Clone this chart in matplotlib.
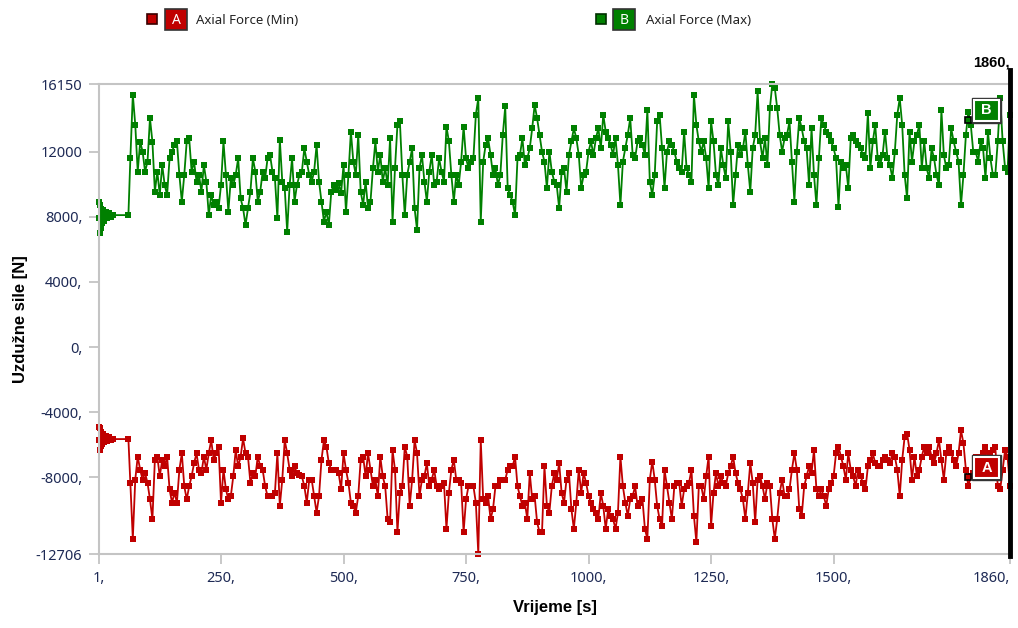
import matplotlib
matplotlib.use("Agg")
import matplotlib.pyplot as plt
from matplotlib.patches import Rectangle

plt.rcParams['font.family'] = ['Noto Sans', 'DejaVu Sans']
BOLD_FONT = ['Liberation Sans', 'DejaVu Sans']

# start-up phase (damped oscillation, then constant until the jump)
T_START = [1, 2, 3, 4, 5, 6, 8, 10, 12, 15, 18, 22, 26, 30, 61]
MAX_START = [7950, 8900, 7000, 8750, 7300, 8500, 7600, 8400, 7750, 8300, 7900, 8200, 7980, 8100, 8100]
MIN_START = [-5700, -4900, -6300, -5000, -6100, -5200, -5950, -5350, -5850, -5450, -5750, -5550, -5700, -5650, -5650]

# main record, every 5 s from 65 s to 1860 s
T_MAIN = list(range(65, 1861, 5))

AXIAL_MAX = [
    11590, 15500, 13640, 10770, 12600, 12000, 10770, 11380, 14050, 12600,
    9540, 10770, 9340, 11180, 9950, 9340, 11590, 12000, 12410, 12620,
    10570, 8930, 10570, 12620, 12820, 10770, 11380, 10160, 10570, 9540,
    11180, 10160, 8100, 9340, 8720, 8930, 8520, 9950, 12620, 10570,
    8310, 10360, 9950, 10570, 11590, 9130, 8520, 7490, 8520, 9540,
    11590, 10770, 8930, 9540, 10770, 10360, 11590, 11800, 10770, 10360,
    7900, 12720, 10160, 9750, 7080, 9950, 11590, 8930, 9950, 10570,
    10770, 12200, 11380, 10570, 10160, 10770, 12410, 10160, 8930, 7700,
    8310, 7490, 9540, 9950, 9640, 10050, 9440, 11180, 8310, 10570,
    13230, 11380, 10570, 13030, 9540, 8720, 10160, 8520, 8930, 10980,
    12620, 10770, 11800, 10160, 10980, 9950, 12820, 7700, 10980, 13640,
    13850, 10570, 8100,
    10570, 11380, 12200, 8520, 7180, 10980, 11800, 10160, 8930, 10770,
    11800, 9950, 10160, 11590, 10770, 10160, 13540, 12620, 10570, 8930,
    10570, 9950, 11380, 13540, 11590, 10980, 11380, 11590, 14260, 15280,
    7700, 11380, 12410, 12820, 11800, 10570, 10980, 9950, 10570, 13030,
    14770, 9750, 9340, 8930, 8100, 11590, 11800, 12820, 11180, 11590,
    12200, 13430, 14870, 14050, 13030, 12000, 11380, 9750, 12000, 10770,
    10160, 9950, 8520, 10770, 10980, 9540, 11800, 12620, 13430, 12820,
    11800, 9750, 10570, 10770, 12000, 12620, 11800, 12820, 13430, 12200,
    14260, 13230, 12820, 12410, 11800, 12820, 11180, 8720, 11380, 12200,
    13030, 14050, 11800, 11590, 12620, 12820, 12410, 11800, 14560, 10160,
    9340, 10570, 13850, 14260, 12200, 9750, 12000, 12620, 12410, 12000,
    11380, 10980, 10770, 13230, 10980, 10570, 10160, 15480, 13640, 12620,
    12000, 12620, 11590, 9750,
    13850, 12620, 10570, 9950, 12200, 11180, 10360, 13850, 12000, 8720,
    10570, 12410, 11800, 12200, 13230, 11180, 9540, 12200, 13030, 15690,
    12620, 11590, 12820, 11180, 14660, 16150, 15900, 14660, 13030, 12000,
    12820, 13030, 13850, 11380, 8930, 12000, 14050, 13430, 12620, 12200,
    9950, 13430, 10570, 8720, 11590, 14050, 13640, 13230, 13030, 12620,
    12200, 11590, 8620, 11380, 10980, 11180, 9750, 12820, 13030, 12620,
    12410, 12200, 11800, 11590, 14360, 10980, 12620, 13640, 11590, 11180,
    11800, 13230, 11590, 11180, 10360, 12000, 14260, 15280, 13640, 10570,
    9130, 13230, 11380, 12620, 13030, 13640, 10980, 12620, 10980, 10360,
    12200, 11590, 10570, 9950, 14560, 11800, 10980, 11180, 13430, 12620,
    12000, 11380, 8720, 10570, 13030, 14460, 13640, 12000, 12000, 11380,
    12620, 12200, 10360, 13230, 11590, 10570, 10570, 12620, 15280, 12620,
    10980, 10770, 14260,
]

AXIAL_MIN = [
    -8340, -11775, -8140, -6725, -7533, -8140, -7735, -8340, -9350, -10563,
    -6927, -6725, -7937, -6927, -7331, -6725, -8745, -9553, -8947, -9553,
    -7533, -6523, -8543, -9351, -8543, -7937, -7129, -6523, -7533, -7735,
    -6725, -7533, -6523, -5715, -6927, -6523, -6119, -9553, -7533, -8745,
    -9351, -9149, -7937, -6321, -7331, -6725, -5614, -6523, -6725, -8341,
    -7735, -7937, -6725, -7331, -7533, -8543, -9149, -9149, -9149, -8947,
    -6523, -9755, -8139, -5715, -6523, -7533, -7937, -7331, -7735, -7836,
    -7937, -8543, -9553, -8139, -8139, -9149, -10159, -9149, -6927, -5715,
    -6119, -7129, -7533, -7533, -7533, -7735, -8745, -6523, -7533, -8341,
    -9553, -9755, -10159, -9149, -6927, -6725, -7937, -6523, -7533, -8543,
    -8139, -9149, -6725, -7937, -8543, -10563, -10765, -6321, -7533, -11371,
    -8947, -8543, -6119, -6725, -9755, -8139, -5715, -6523, -9149, -8139,
    -7937, -7129, -8543, -8139, -7533, -8543, -8745, -8543, -8341, -11169,
    -8947, -7533, -6927, -8139, -8139, -8341, -11371, -9351, -8543, -8543,
    -8543, -9553, -12706, -5715, -9351, -9553, -9149, -10563, -9957, -8543,
    -8543, -8139, -8139, -8139, -7533, -7331, -7331, -6725, -8543, -9149,
    -9755, -9553, -10563, -7735, -9351, -9149, -10765, -11371, -11371, -7331,
    -9755, -10159, -8543, -7735,
    -8139, -7129, -8947, -9553, -8139, -7735, -9957, -11169, -9553, -7533,
    -8947, -7735, -8341, -9149, -9553, -9957, -10159, -10563, -8947, -9755,
    -11169, -9957, -10361, -10563, -11169, -10159, -6725, -8543, -9553, -10361,
    -9351, -9149, -8543, -9755, -9553, -9351, -11169, -11775, -8139, -7028,
    -8139, -9755, -10563, -10967, -7533, -8543, -9553, -10563, -8543, -8341,
    -8341, -9755, -8745, -8543, -8341, -7533, -10361, -11977, -8543, -8543,
    -9351, -7937, -6725, -10967, -8947, -7735, -8543, -7937, -8341, -8543,
    -7735, -7331, -6725, -7735, -8341, -8745, -9351, -10563, -8947, -7129,
    -8341, -10765, -8139, -7937, -8543, -9351, -8341, -8543, -10563, -11775,
    -10563, -8947, -8139, -9149, -9149, -8745, -7533, -6523, -7533, -9957,
    -10361, -8543, -7937, -7331, -7735, -6321, -8745, -9149, -8745, -9149,
    -9755, -8745, -8341, -7937, -6523, -6119, -6725, -7331, -8139, -6523,
    -7533, -7937, -8543, -7533, -7937, -8341, -8745, -7331, -6927, -6523,
    -7129, -7331, -7331, -6927, -6725, -6927, -7129, -6523, -6725, -7533,
    -9149, -6927, -5513, -5311, -6321, -8139, -6725, -7937, -7533, -6725,
    -6119, -6523, -6119, -6725, -7129, -6523, -5715, -6927, -8139, -6523,
    -6119, -6523, -6927, -7331, -6523, -5109, -5917, -7533, -8543, -7937,
    -7735, -6725, -6927, -6725, -6523, -6119, -6927, -6523, -6321, -6119,
    -8543, -8745, -7533, -6321, -6725, -8543,
]

X_TICKS = [1, 250, 500, 750, 1000, 1250, 1500, 1860]
X_LABELS = ["1,", "250,", "500,", "750,", "1000,", "1250,", "1500,", "1860,"]
Y_TICKS = [-12706, -8000, -4000, 0, 4000, 8000, 12000, 16150]
Y_LABELS = ["-12706", "-8000,", "-4000,", "0,", "4000,", "8000,", "12000", "16150"]

RED = "#c00000"
GREEN = "#008000"
GRAY = "#c4c4c4"
TICK_TEXT = "#1e2a55"

W, H = 1018, 628


def fx(x):
    return x / W


def fy(y):
    return 1 - y / H


def px_box(fig, x0, y0, w, h, **kw):
    # rectangle given in image pixels (top-left corner)
    fig.add_artist(Rectangle((fx(x0), fy(y0 + h)), w / W, h / H,
                             transform=fig.transFigure, **kw))


fig = plt.figure(figsize=(W / 100, H / 100), dpi=100)
ax = fig.add_axes([fx(99), fy(554), (1010 - 99) / W, (554 - 84) / H])

ax.plot(T_START + T_MAIN, MAX_START + AXIAL_MAX, color=GREEN, lw=1.3, marker="s",
        ms=3.9, mew=0, clip_on=False)
ax.plot(T_START + T_MAIN, MIN_START + AXIAL_MIN, color=RED, lw=1.3, marker="s",
        ms=3.9, mew=0, clip_on=False)

ax.set_xlim(1, 1860)
ax.set_ylim(-12706, 16150)
ax.set_xticks(X_TICKS, X_LABELS)
ax.set_yticks(Y_TICKS, Y_LABELS)
last = ax.get_xticklabels()[-1]
last.set_horizontalalignment("right")

for side in ["left", "bottom", "top"]:
    ax.spines[side].set_color(GRAY)
    ax.spines[side].set_linewidth(1.5)
ax.spines["right"].set_visible(False)
ax.tick_params(direction="out", length=7, width=1.3, color=GRAY,
               labelcolor=TICK_TEXT, labelsize=10.5, pad=5)

ax.axvline(1860, ymin=-0.005, ymax=1.03, color="black", lw=3.5, clip_on=False, zorder=5)
ax.text(1.0, 1.045, "1860,", transform=ax.transAxes, ha="right", va="center",
        fontsize=10.5, fontweight="bold", family=BOLD_FONT, color="black")

ax.set_xlabel("Vrijeme [s]", fontsize=12, fontweight="bold", family=BOLD_FONT, labelpad=10)
ax.set_ylabel("Uzdužne sile [N]", fontsize=12, fontweight="bold", family=BOLD_FONT, labelpad=6)

# legend along the top
for sq_x, box_x, txt_x, color, dark, letter, name in [
    (147, 165, 196, RED, "#3a0000", "A", "Axial Force (Min)"),
    (596, 613, 646, GREEN, "#003000", "B", "Axial Force (Max)"),
]:
    px_box(fig, sq_x, 14, 10, 10, facecolor=color, edgecolor=dark, lw=1.2)
    px_box(fig, box_x, 9, 22, 21, facecolor=color, edgecolor="#333333", lw=1.2)
    fig.text(fx(box_x + 11), fy(20), letter, color="white", ha="center", va="center",
             fontsize=10)
    fig.text(fx(txt_x), fy(20), name, color="#222222", ha="left", va="center",
             fontsize=9.5)

# series tags at the right end
for tag_y, color, letter in [(98, GREEN, "B"), (455, RED, "A")]:
    px_box(fig, 965, tag_y + 19, 6, 6, facecolor=color, edgecolor="black", lw=1.2, zorder=6)
    px_box(fig, 972, tag_y, 29, 25, facecolor="#333333", edgecolor="#333333", lw=1.0, zorder=6)
    px_box(fig, 974, tag_y + 2, 25, 21, facecolor=color, edgecolor="white", lw=1.5, zorder=7)
    fig.text(fx(986.5), fy(tag_y + 12.5), letter, color="white", ha="center", va="center",
             fontsize=10.5, fontweight="bold", family=BOLD_FONT, zorder=8)

fig.savefig("out.png", dpi=100)
